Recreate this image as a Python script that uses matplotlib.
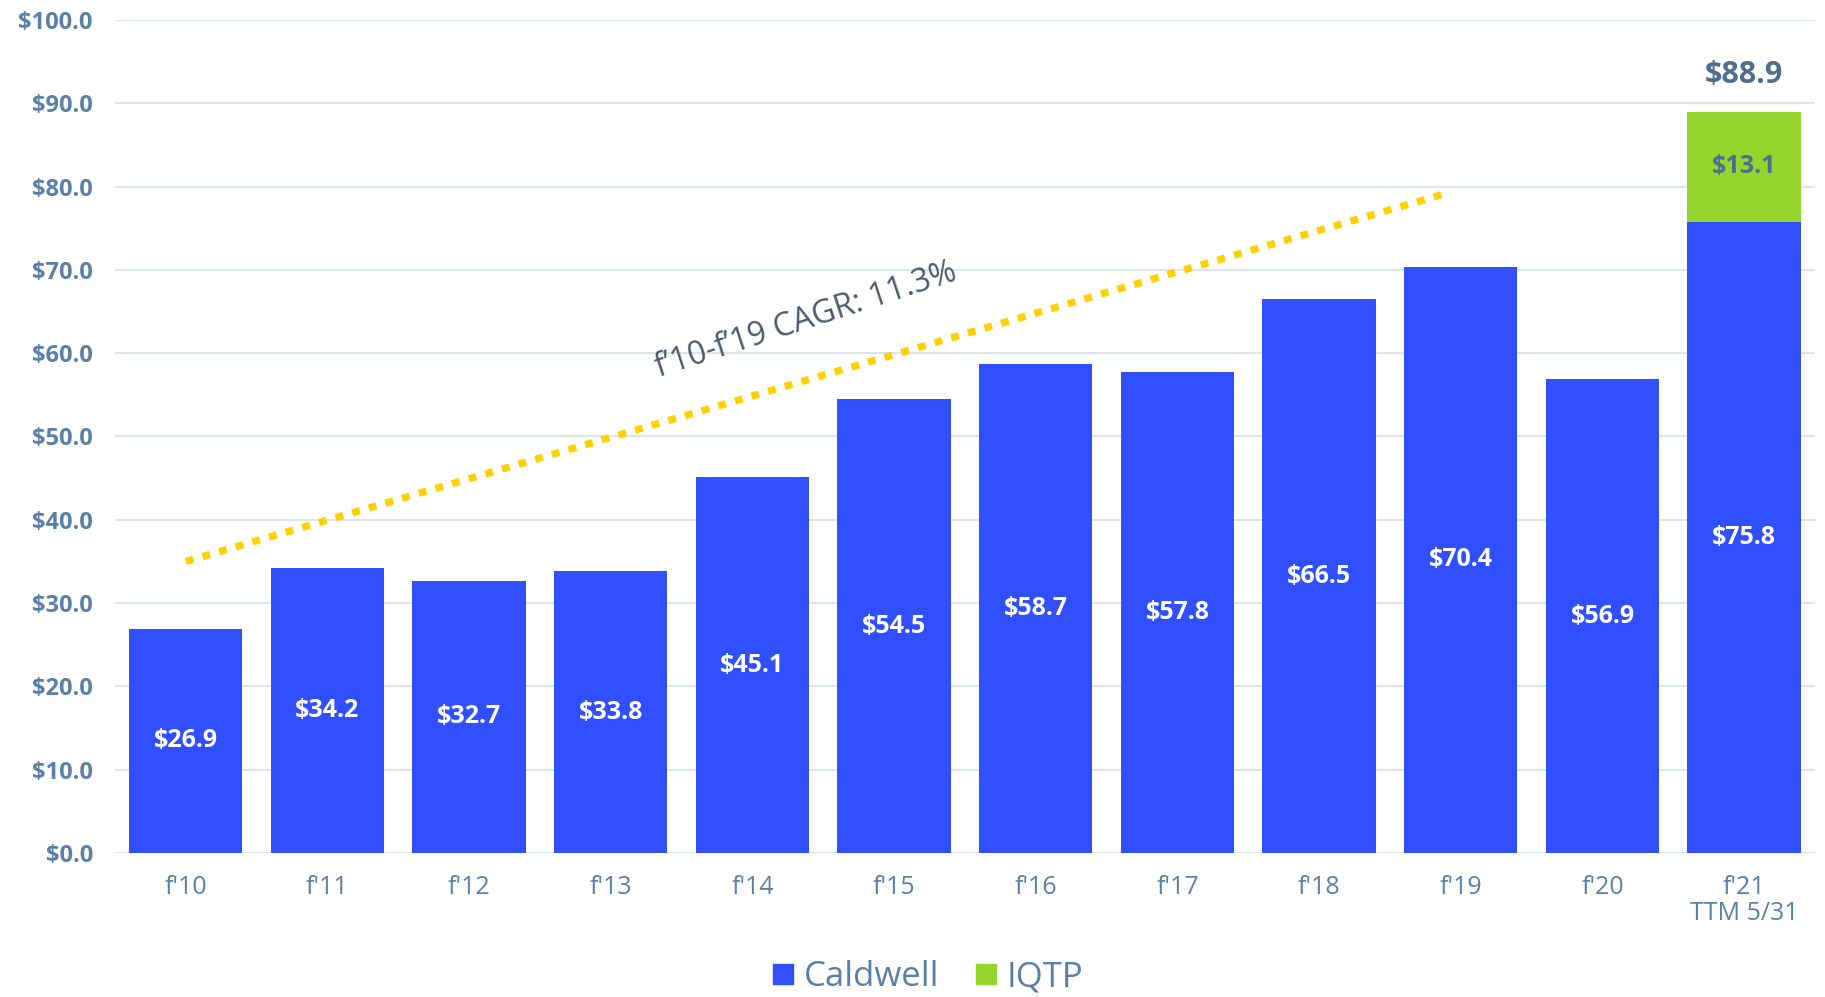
import matplotlib
matplotlib.use("Agg")
import matplotlib.pyplot as plt
from matplotlib.lines import Line2D
import numpy as np

categories = ["f'10", "f'11", "f'12", "f'13", "f'14", "f'15", "f'16", "f'17", "f'18", "f'19", "f'20", "f'21\nTTM 5/31"]
caldwell = [26.9, 34.2, 32.7, 33.8, 45.1, 54.5, 58.7, 57.8, 66.5, 70.4, 56.9, 75.8]
iqtp = [0, 0, 0, 0, 0, 0, 0, 0, 0, 0, 0, 13.1]
total_label = "$88.9"
trend_x = [0, 8.9]
trend_y = [35.0, 79.2]
cagr_text = "f\u201910-f\u201919 CAGR: 11.3%"
yticks = np.arange(0, 101, 10)

plt.rcParams['font.family'] = ['Open Sans', 'DejaVu Sans']

BLUE = "#3050FF"
GREEN = "#94D62E"
TICK = "#5B80A8"
DARK = "#4F6D8C"

fig = plt.figure(figsize=(18.25, 9.97), dpi=100)
ax = fig.add_axes([0.063, 0.1444, 0.9315, 0.8356])

x = np.arange(len(categories))
ax.bar(x, caldwell, width=0.8, color=BLUE, zorder=2)
ax.bar(x, iqtp, width=0.8, bottom=caldwell, color=GREEN, zorder=2)

for i, v in enumerate(caldwell):
    ax.text(i, v / 2, f"${v:.1f}", ha="center", va="center", color="white",
            fontsize=18, fontweight="bold", zorder=4)
for i, v in enumerate(iqtp):
    if v > 0:
        ax.text(i, caldwell[i] + v / 2, f"${v:.1f}", ha="center", va="center",
                color=DARK, fontsize=18, fontweight="bold", zorder=4)
        ax.text(i, caldwell[i] + v + 2.7, total_label, ha="center", va="bottom",
                color=DARK, fontsize=22, fontweight="bold", zorder=4)

ax.plot(trend_x, trend_y, color="#FFD000", linewidth=5.2,
        linestyle=(0, (1.1, 1.3)), dash_capstyle="butt", zorder=3)
ax.text(4.38, 64.0, cagr_text, rotation=18, ha="center", va="center",
        color="#4A5A6C", fontsize=23, zorder=4)

ax.set_xlim(-0.5, len(categories) - 0.5)
ax.set_ylim(0, 100)
ax.set_yticks(yticks)
ax.set_yticklabels([f"${v:.1f}" for v in yticks], fontsize=17, fontweight="bold", color=TICK)
ax.set_xticks(x)
ax.set_xticklabels(categories, fontsize=18, color=TICK, linespacing=1.05)
ax.tick_params(axis="y", length=0, pad=16)
ax.tick_params(axis="x", length=0, pad=16)
ax.grid(axis="y", color="#DCE5EE", linewidth=1.5, zorder=0)
ax.set_axisbelow(True)
for s in ax.spines.values():
    s.set_visible(False)

handles = [Line2D([], [], marker="s", linestyle="none", markersize=15, color=BLUE),
           Line2D([], [], marker="s", linestyle="none", markersize=15, color=GREEN)]
leg = fig.legend(handles, ["Caldwell", "IQTP"], loc="center", bbox_to_anchor=(0.508, 0.02),
                 ncol=2, frameon=False, fontsize=25, handlelength=0.7, handletextpad=0.25,
                 columnspacing=1.0, borderaxespad=0)
for t in leg.get_texts():
    t.set_color(TICK)

fig.savefig("out.png", dpi=100)
